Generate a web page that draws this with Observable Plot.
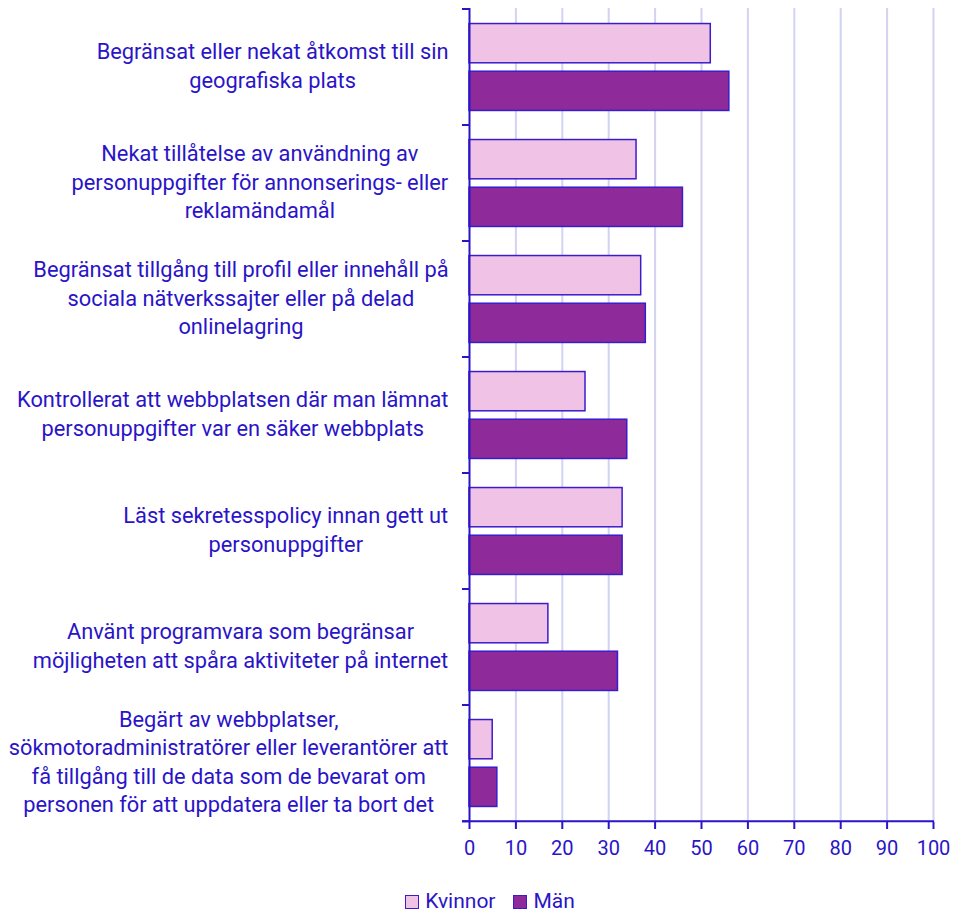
<!DOCTYPE html>
<html><head><meta charset="utf-8">
<script src="https://cdn.jsdelivr.net/npm/d3@7"></script>
<script src="https://cdn.jsdelivr.net/npm/@observablehq/plot@0.6"></script>
<style>
body{margin:0;background:#fff;font-family:Roboto, sans-serif;}
#legend{display:flex;justify-content:center;align-items:center;gap:18px;font-size:21px;line-height:21px;color:#2a14c8;height:21px;padding-top:11px;margin-left:12px;font-family:Roboto, sans-serif;}
.item{display:flex;align-items:center;gap:6px;}
.sw{width:12px;height:12px;border:1.5px solid #3a1ccc;display:inline-block;}
</style></head><body><div id="chart"></div><div id="legend"></div>
<script>
const categories = [
  "Begränsat eller nekat åtkomst till sin\ngeografiska plats",
  "Nekat tillåtelse av användning av\npersonuppgifter för annonserings- eller\nreklamändamål",
  "Begränsat tillgång till profil eller innehåll på\nsociala nätverkssajter eller på delad\nonlinelagring",
  "Kontrollerat att webbplatsen där man lämnat\npersonuppgifter var en säker webbplats",
  "Läst sekretesspolicy innan gett ut\npersonuppgifter",
  "Använt programvara som begränsar\nmöjligheten att spåra aktiviteter på internet",
  "Begärt av webbplatser,\nsökmotoradministratörer eller leverantörer att\nfå tillgång till de data som de bevarat om\npersonen för att uppdatera eller ta bort det"
];
const series = ["Kvinnor", "Män"];
const kvinnor = [52, 36, 37, 25, 33, 17, 5];
const man = [56, 46, 38, 34, 33, 32, 6];
const xTicks = [0, 10, 20, 30, 40, 50, 60, 70, 80, 90, 100];
const colors = ["#f0c3e6", "#8e2a9a"];

const ink = "#2a14c8";
const barStroke = "#3a1ccc";
const W = 968, H = 880, mL = 469, mR = 35, mT = 8, mB = 58;
const step = (H - mT - mB) / categories.length;

const rows = categories.flatMap((c, i) => [
  {cat: c, serie: series[0], value: kvinnor[i]},
  {cat: c, serie: series[1], value: man[i]}
]);

function bandTicks(index, scales, values, dimensions) {
  const ns = "http://www.w3.org/2000/svg";
  const g = document.createElementNS(ns, "g");
  const y = scales.y;
  const x0 = scales.x(0);
  const ys = categories.map(c => y(c));
  const yEnd = ys[ys.length - 1] + step;
  ys.push(yEnd);
  for (const yy of ys) {
    const l = document.createElementNS(ns, "line");
    l.setAttribute("x1", x0 - 7); l.setAttribute("x2", x0);
    l.setAttribute("y1", yy); l.setAttribute("y2", yy);
    l.setAttribute("stroke", ink); l.setAttribute("stroke-width", 2);
    g.append(l);
  }
  const ax = document.createElementNS(ns, "line");
  ax.setAttribute("x1", x0 - 7); ax.setAttribute("x2", scales.x(100) + 1);
  ax.setAttribute("y1", yEnd); ax.setAttribute("y2", yEnd);
  ax.setAttribute("stroke", ink); ax.setAttribute("stroke-width", 2);
  g.append(ax);
  return g;
}

const svg = Plot.plot({
  width: W, height: H,
  marginLeft: mL, marginRight: mR, marginTop: mT, marginBottom: mB,
  style: {fontFamily: "Roboto, sans-serif", fontSize: "20px", color: ink, background: "#fff", overflow: "visible"},
  x: {domain: [0, 100], ticks: xTicks, label: null},
  y: {domain: categories, padding: 0, label: null},
  marks: [
    Plot.ruleX(xTicks.slice(1), {stroke: "#d2d2f2", strokeWidth: 2}),
    Plot.barX(rows.filter(d => d.serie === series[0]), {
      y: "cat", x: "value", fill: colors[0], stroke: barStroke, strokeWidth: 1.5,
      insetTop: step * 0.125, insetBottom: step * 0.535
    }),
    Plot.barX(rows.filter(d => d.serie === series[1]), {
      y: "cat", x: "value", fill: colors[1], stroke: barStroke, strokeWidth: 1.5,
      insetTop: step * 0.535, insetBottom: step * 0.125
    }),
    Plot.ruleX([0], {stroke: ink, strokeWidth: 2}),
    bandTicks,
    Plot.axisX({ticks: xTicks, tickSize: 7, tickPadding: 11, fontSize: 20, stroke: ink, strokeWidth: 2, label: null}),
    Plot.axisY({tickSize: 0, tickPadding: 21, fontSize: 21.8, lineHeight: 1.29, dy: -3, label: null})
  ]
});
document.getElementById("chart").append(svg);

// center multi-line category labels, keeping their right edge next to the axis
svg.querySelectorAll('g[aria-label="y-axis tick label"] text').forEach(t => {
  const w = t.getBBox().width;
  t.setAttribute("text-anchor", "middle");
  const tr = t.getAttribute("transform") || "";
  t.setAttribute("transform", tr + ` translate(${-w / 2},0)`);
});

const legend = document.getElementById("legend");
series.forEach((s, i) => {
  const it = document.createElement("span");
  it.className = "item";
  it.innerHTML = `<span class="sw" style="background:${colors[i]}"></span><span>${s}</span>`;
  legend.append(it);
});
</script></body></html>
